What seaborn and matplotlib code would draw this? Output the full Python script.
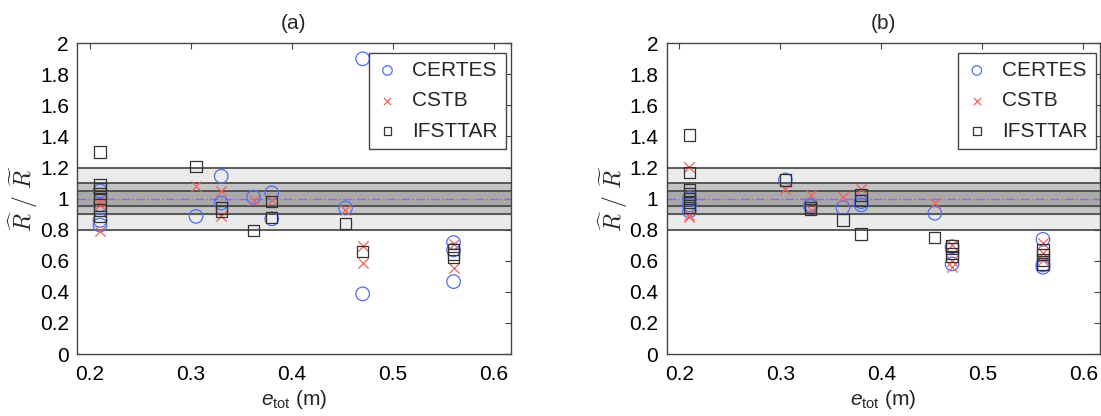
import numpy as np
import pandas as pd
import matplotlib
matplotlib.use("Agg")
import matplotlib.pyplot as plt
import matplotlib.ticker as mticker
import seaborn as sns

labs = ["CERTES", "CSTB", "IFSTTAR"]

# panel (a)
a_certes_x = [0.21, 0.21, 0.21, 0.21, 0.305, 0.33, 0.33, 0.362, 0.38, 0.38, 0.453, 0.47, 0.47, 0.56, 0.56, 0.56]
a_certes_y = [1.05, 0.96, 0.86, 0.83, 0.886, 1.144, 0.972, 1.01, 1.037, 0.87, 0.94, 1.90, 0.387, 0.718, 0.67, 0.466]
a_cstb_x = [0.21, 0.21, 0.21, 0.305, 0.33, 0.33, 0.362, 0.38, 0.453, 0.47, 0.47, 0.56, 0.56]
a_cstb_y = [0.98, 0.96, 0.79, 1.08, 1.047, 0.886, 0.99, 0.99, 0.93, 0.697, 0.585, 0.71, 0.553]
a_ifsttar_x = [0.21, 0.21, 0.21, 0.21, 0.21, 0.21, 0.21, 0.305, 0.33, 0.33, 0.362, 0.38, 0.38, 0.453, 0.47, 0.56, 0.56, 0.56]
a_ifsttar_y = [1.30, 1.088, 1.067, 1.035, 1.003, 0.927, 0.884, 1.205, 0.94, 0.918, 0.795, 0.983, 0.88, 0.839, 0.66, 0.671, 0.64, 0.62]

# panel (b)
b_certes_x = [0.21, 0.21, 0.21, 0.305, 0.33, 0.33, 0.362, 0.38, 0.38, 0.453, 0.47, 0.47, 0.56, 0.56, 0.56]
b_certes_y = [1.0, 0.96, 0.92, 1.12, 0.96, 0.95, 0.942, 0.98, 0.96, 0.906, 0.691, 0.58, 0.738, 0.573, 0.558]
b_cstb_x = [0.21, 0.21, 0.21, 0.305, 0.33, 0.33, 0.362, 0.38, 0.453, 0.47, 0.47, 0.47, 0.56, 0.56, 0.56]
b_cstb_y = [1.206, 0.895, 0.88, 1.06, 1.024, 0.93, 1.013, 1.06, 0.97, 0.70, 0.60, 0.562, 0.715, 0.65, 0.605]
b_ifsttar_x = [0.21, 0.21, 0.21, 0.21, 0.21, 0.21, 0.21, 0.305, 0.33, 0.33, 0.362, 0.38, 0.38, 0.38,
               0.453, 0.47, 0.47, 0.47, 0.47, 0.56, 0.56, 0.56, 0.56]
b_ifsttar_y = [1.41, 1.17, 1.056, 1.03, 1.0, 0.974, 0.945, 1.12, 0.945, 0.93, 0.863, 1.024, 0.99, 0.773,
               0.749, 0.695, 0.68, 0.648, 0.627, 0.67, 0.64, 0.605, 0.58]

panels = {
    "(a)": [(a_certes_x, a_certes_y), (a_cstb_x, a_cstb_y), (a_ifsttar_x, a_ifsttar_y)],
    "(b)": [(b_certes_x, b_certes_y), (b_cstb_x, b_cstb_y), (b_ifsttar_x, b_ifsttar_y)],
}

rows = []
for p, series in panels.items():
    for lab, (xs, ys) in zip(labs, series):
        for x, y in zip(xs, ys):
            rows.append((p, lab, x, y))
df = pd.DataFrame(rows, columns=["panel", "lab", "e", "ratio"])

sns.set_style("white")
plt.rcParams["font.family"] = ["Liberation Sans", "DejaVu Sans"]
plt.rcParams["font.size"] = 15
plt.rcParams["mathtext.fontset"] = "custom"
plt.rcParams["mathtext.it"] = "Liberation Sans:italic"
plt.rcParams["mathtext.rm"] = "Liberation Sans"

marks = {"CERTES": "o", "CSTB": "x", "IFSTTAR": "s"}
cols = {"CERTES": "#4f6ef0", "CSTB": "#f0645a", "IFSTTAR": "#333333"}
sizes = {"CERTES": 95, "CSTB": 55, "IFSTTAR": 66}

fig = plt.figure(figsize=(11.01, 4.16), dpi=100)
lefts = [0.0702, 0.6055]
for left, (p, sub) in zip(lefts, df.groupby("panel", sort=True)):
    ax = fig.add_axes([left, 0.149, 0.3936, 0.747])

    # tolerance bands
    ax.axhspan(0.8, 1.2, color="#ebebeb", zorder=0)
    ax.axhspan(0.9, 1.1, color="#c4c4c4", zorder=0)
    ax.axhspan(0.95, 1.05, color="#a9a9a9", zorder=0)
    for h in [0.8, 0.9, 0.95, 1.05, 1.1, 1.2]:
        ax.axhline(h, color="#444444", lw=1.2, zorder=1)
    ax.axhline(1.0, color="#9966dd", lw=1.0, ls="-.", zorder=1)

    for lab in labs:
        d = sub[sub["lab"] == lab]
        if marks[lab] == "x":
            sns.scatterplot(data=d, x="e", y="ratio", marker="x", color=cols[lab],
                            s=sizes[lab], linewidth=0.9, label=lab, ax=ax, zorder=3)
        else:
            sns.scatterplot(data=d, x="e", y="ratio", marker=marks[lab], fc="none",
                            ec=cols[lab], s=sizes[lab], linewidth=0.9, label=lab,
                            ax=ax, zorder=3)

    ax.set_xlim(0.1875, 0.6165)
    ax.set_ylim(0, 2)
    ax.set_xticks([0.2, 0.3, 0.4, 0.5, 0.6])
    ax.set_yticks(np.arange(0, 2.01, 0.2))
    ax.yaxis.set_major_formatter(mticker.FuncFormatter(lambda v, _: f"{v:g}"))
    ax.tick_params(direction="in", length=4, width=0.8, top=True, right=True,
                   labelsize=15, pad=6, colors="#444444", labelcolor="black")
    ax.tick_params(axis="x", pad=8)
    for s in ax.spines.values():
        s.set_color("#444444")
        s.set_linewidth(1.0)
    ax.set_xlabel(r"$e_{\mathrm{tot}}$ (m)", fontsize=15, labelpad=3)
    ax.set_ylabel(r"$\widehat{R}\ /\ \widetilde{R}$", fontsize=17,
                  math_fontfamily="cm")
    ax.yaxis.set_label_coords(-0.085, 0.5)
    ax.set_title(p, fontsize=15, pad=10)

    leg = ax.legend(loc="upper right", bbox_to_anchor=(0.99, 0.97), borderaxespad=0,
                    fontsize=15, markerscale=0.7, frameon=True, fancybox=False,
                    edgecolor="#444444", framealpha=1, handlelength=1.0,
                    handletextpad=0.7, labelspacing=0.55, borderpad=0.4)
    leg.get_frame().set_linewidth(1.0)

fig.savefig("out.png", dpi=100)
